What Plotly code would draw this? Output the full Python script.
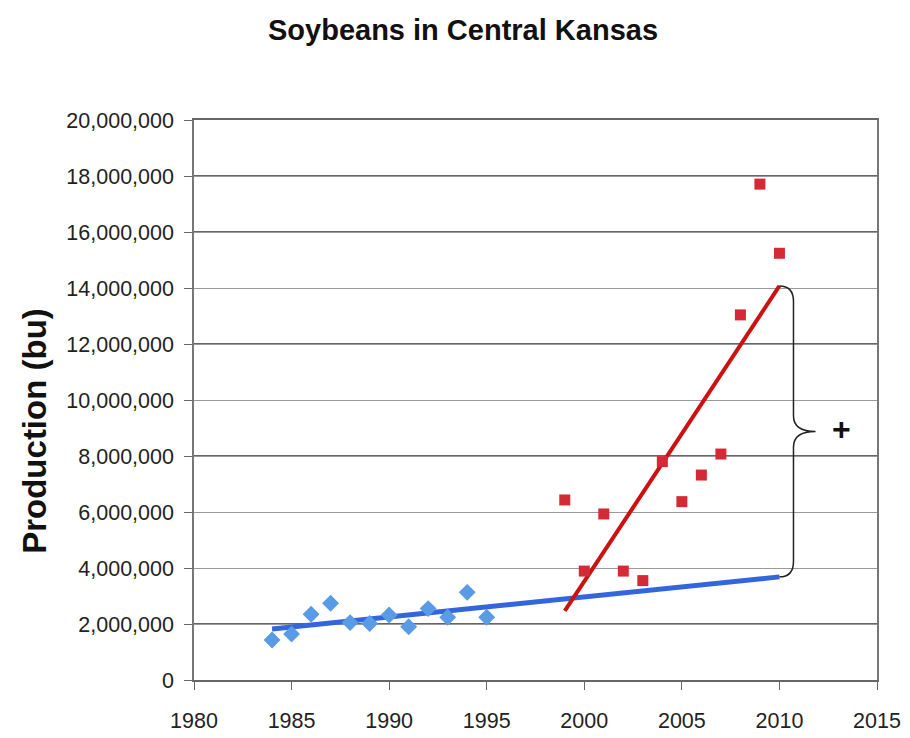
import numpy as np
import plotly.graph_objects as go

# ---- data ----
early_years = [1984, 1985, 1986, 1987, 1988, 1989, 1990, 1991, 1992, 1993, 1994, 1995]
early_prod = [1430000, 1640000, 2350000, 2740000, 2050000, 2020000, 2320000, 1900000,
              2550000, 2240000, 3130000, 2240000]

late_years = [1999, 2000, 2001, 2002, 2003, 2004, 2005, 2006, 2007, 2008, 2009, 2010]
late_prod = [6430000, 3890000, 5930000, 3890000, 3550000, 7800000, 6370000, 7320000,
             8070000, 13040000, 17710000, 15240000]

x_ticks = [1980, 1985, 1990, 1995, 2000, 2005, 2010, 2015]
y_ticks = [0, 2000000, 4000000, 6000000, 8000000, 10000000, 12000000, 14000000,
           16000000, 18000000, 20000000]

# ---- linear trend lines ----
b_slope, b_int = np.polyfit(early_years, early_prod, 1)
r_slope, r_int = np.polyfit(late_years, late_prod, 1)
blue_x = [early_years[0], late_years[-1]]
blue_y = [b_slope * v + b_int for v in blue_x]
red_x = [late_years[0], late_years[-1]]
red_y = [r_slope * v + r_int for v in red_x]

fig = go.Figure()

fig.add_trace(go.Scatter(x=blue_x, y=blue_y, mode="lines",
                         line=dict(color="#3366DD", width=5), hoverinfo="skip"))
fig.add_trace(go.Scatter(x=red_x, y=red_y, mode="lines",
                         line=dict(color="#CC1111", width=4), hoverinfo="skip"))
fig.add_trace(go.Scatter(x=early_years, y=early_prod, mode="markers",
                         marker=dict(symbol="diamond", size=13, color="#5A9BE6")))
fig.add_trace(go.Scatter(x=late_years, y=late_prod, mode="markers",
                         marker=dict(symbol="square", size=11, color="#D42A36")))

# ---- curly brace between the two trend ends at 2010 ----
yt = red_y[1]
yb = blue_y[1]
ym = (yt + yb) / 2
x0 = late_years[-1]
x1 = x0 + 0.72
x2 = x0 + 1.85
r = 550000
path = (f"M {x0},{yt} Q {x1},{yt} {x1},{yt - r} "
        f"L {x1},{ym + r} Q {x1},{ym} {x2},{ym} "
        f"Q {x1},{ym} {x1},{ym - r} "
        f"L {x1},{yb + r} Q {x1},{yb} {x0},{yb}")
fig.add_shape(type="path", path=path, xref="x", yref="y",
              line=dict(color="#222222", width=1.5), layer="above")

fig.add_annotation(x=x0 + 3.2, y=ym + 80000, xref="x", yref="y", text="<b>+</b>",
                   showarrow=False, font=dict(family="Arial", size=32, color="#111111"))

# y-axis title placed as in the picture (slightly below plot centre)
fig.add_annotation(x=0, y=0.445, xref="paper", yref="paper", xshift=-159,
                   text="<b>Production (bu)</b>",
                   textangle=-90, showarrow=False, xanchor="center", yanchor="middle",
                   font=dict(family="Arial", size=33, color="#111111"))

# alternating gridline darkness as in the picture
for v in [2000000, 8000000, 12000000, 16000000, 18000000]:
    fig.add_shape(type="line", xref="paper", yref="y", x0=0, x1=1, y0=v, y1=v,
                  line=dict(color="#333333", width=1.5), layer="below")

tick_font = dict(family="Arial", size=21.5, color="#222222")

fig.update_layout(
    width=902, height=730,
    margin=dict(l=186, r=33, t=112, b=58),
    paper_bgcolor="white", plot_bgcolor="white",
    showlegend=False,
    title=dict(text="<b>Soybeans in Central Kansas</b>", x=455 / 902, xanchor="center",
               xref="container", y=1 - 22 / 730, yanchor="middle", yref="container",
               font=dict(family="Arial", size=29, color="#111111")),
    xaxis=dict(range=[1980, 2015], tickvals=x_ticks, ticktext=[str(v) for v in x_ticks],
               showgrid=False, zeroline=False, showline=True, linecolor="#666666", linewidth=1.5,
               mirror=True, ticks="outside", ticklen=8, tickcolor="#666666",
               tickfont=tick_font, ticklabelstandoff=12, automargin=False),
    yaxis=dict(range=[0, 20000000], tickvals=y_ticks, tickformat=",d",
               showgrid=True, gridcolor="#9a9a9a", gridwidth=1.2,
               zeroline=False, showline=True, linecolor="#777777", linewidth=1.5,
               mirror=True, ticks="outside", ticklen=8, tickcolor="#666666",
               tickfont=tick_font, ticklabelstandoff=6, automargin=False),
)

fig.write_html("out.html")
